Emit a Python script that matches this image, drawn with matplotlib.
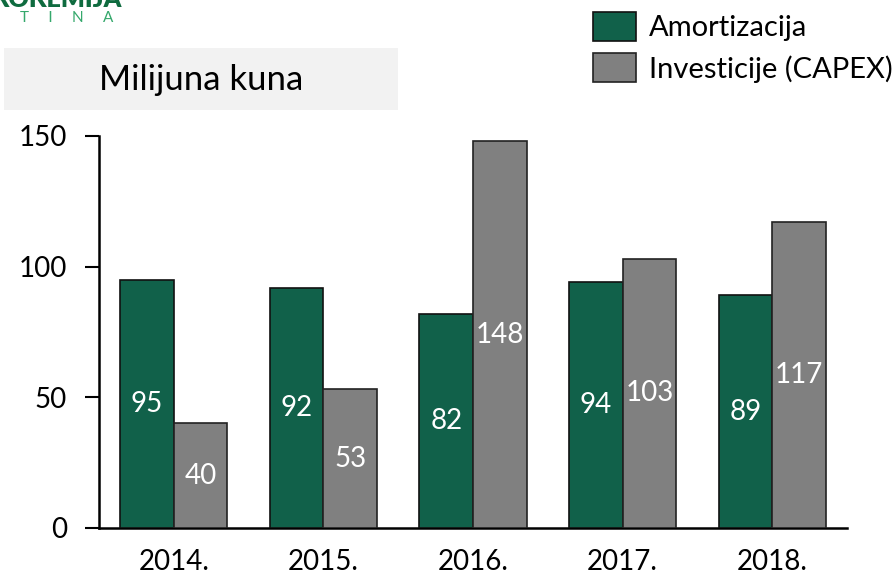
import matplotlib
matplotlib.use("Agg")
import matplotlib.pyplot as plt
from matplotlib.patches import Rectangle
import numpy as np

# ── Data ──
years = ['2014.', '2015.', '2016.', '2017.', '2018.']
amortizacija = [95, 92, 82, 94, 89]
investicije = [40, 53, 148, 103, 117]
yticks = [0, 50, 100, 150]

GREEN = '#11614a'
GREY = '#808080'
plt.rcParams['font.family'] = ['Lato', 'DejaVu Sans']

fig = plt.figure(figsize=(8.92, 5.74), dpi=100)
ax = fig.add_axes([99/892, 1-528/574, 748/892, 392/574])

x = np.arange(len(years))
w = 0.358
ax.bar(x - w/2, amortizacija, w, color=GREEN, edgecolor='#111111', linewidth=1.2,
       label='Amortizacija', zorder=3)
ax.bar(x + w/2, investicije, w, color=GREY, edgecolor='#222222', linewidth=1.2,
       label='Investicije (CAPEX)', zorder=3)

# values inside bars
for xi, v in zip(x - w/2, amortizacija):
    ax.text(xi, v/2, str(v), ha='center', va='center', color='white', fontsize=20, zorder=4)
for xi, v in zip(x + w/2, investicije):
    ax.text(xi, v/2, str(v), ha='center', va='center', color='white', fontsize=20, zorder=4)

ax.set_xlim(-0.5, 4.5)
ax.set_ylim(0, 150)
ax.set_xticks(x)
ax.set_xticklabels(years, fontsize=20)
ax.set_yticks(yticks)
ax.tick_params(axis='y', labelsize=20, length=10, width=1.5, pad=13)
ax.tick_params(axis='x', length=0, pad=15)
for s in ['top', 'right']:
    ax.spines[s].set_visible(False)
for s in ['left', 'bottom']:
    ax.spines[s].set_linewidth(1.8)

ax.legend(loc='upper left', bbox_to_anchor=(593/892, 1-12/574), bbox_transform=fig.transFigure,
          frameon=False, fontsize=21, borderpad=0, borderaxespad=0,
          handlelength=1.47, handleheight=1.13, handletextpad=0.45, labelspacing=0.42)

# grey caption box
fig.add_artist(Rectangle((4/892, 1-110/574), 394/892, 62/574, transform=fig.transFigure,
                         facecolor='#f2f2f2', edgecolor='none', zorder=0))
fig.text(201/892, 1-80/574, 'Milijuna kuna', ha='center', va='center', fontsize=25)

# cropped logo at top-left
fig.text(-8/892, 1-7/574, 'ROKEMIJA', ha='left', va='baseline', fontsize=18,
         fontweight='heavy', color='#0f6b3f')
fig.text(20/892, 1-22/574, 'T     I     N     A', ha='left', va='baseline', fontsize=11,
         color='#35a86c')

fig.savefig('out.png', dpi=100)
